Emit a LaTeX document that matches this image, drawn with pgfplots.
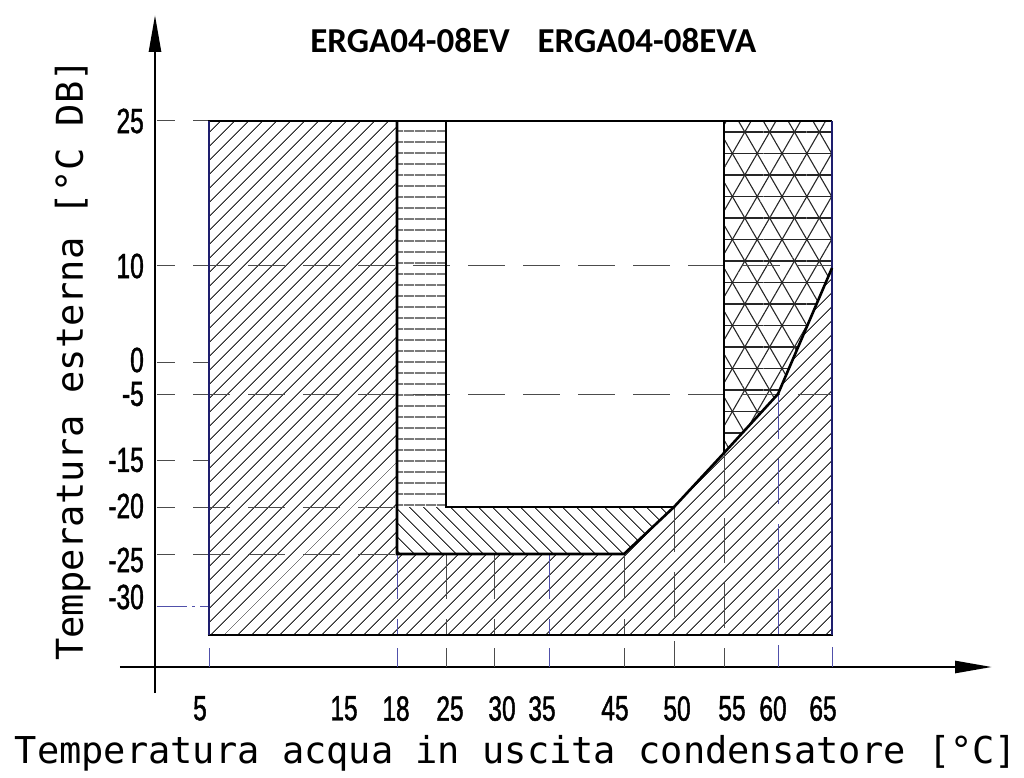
\documentclass[border=0pt]{standalone}
\usepackage{pgfplots}
\pgfplotsset{compat=1.18}
\usepackage{fontspec}
\usetikzlibrary{arrows.meta,patterns.meta}
\setmainfont{Liberation Sans}
\newfontfamily\titlefont{Carlito}
\newfontfamily\labelfont{DejaVu Sans Mono}
\newfontfamily\ticknarrow[FakeStretch=0.7,FakeBold=1.2]{Liberation Sans}
\definecolor{gridblue}{RGB}{80,80,170}
\definecolor{navy}{RGB}{30,30,110}
\begin{document}
\begin{tikzpicture}
\begin{axis}[
  x=1pt, y=1pt,
  xmin=-35, xmax=837, ymin=-26, ymax=652,
  axis lines=middle,
  axis line style={line width=2.6pt},
  every inner x axis line/.append style={-{Triangle[length=37pt,width=12pt]}},
  every inner y axis line/.append style={-{Triangle[length=37pt,width=12pt]}},
  clip=false,
  xtick={45,189,241,295,347,387,460,522,577,618,668},
  xticklabels={5,15,18,25,30,35,45,50,55,60,65},
  ytick={546,401,307,273,207,161,107,70},
  yticklabels={25,10,0,-5,-15,-20,-25,-30},
  major tick length=0pt,
  tick label style={font=\ticknarrow\fontsize{35}{35}\selectfont, inner sep=0pt},
  xticklabel style={anchor=north, yshift=-29pt},
  yticklabel style={anchor=east, xshift=-11pt},
]
% invisible frame = whole picture
\path (axis cs:-155,-110) rectangle (axis cs:869,667);

% main region (/ hatch)
\addplot[draw=none, pattern={Lines[angle=45,distance=10.5pt,line width=1.1pt]}, pattern color=black!80]
  coordinates {(54,32) (54,546) (242,546) (242,113) (469,113) (519,160) (569,214) (623,273) (677,399) (677,32)} -- cycle;
% horizontal lines region
\addplot[draw=none, pattern={Lines[angle=0,distance=10.5pt,line width=1.1pt]}, pattern color=black!80]
  coordinates {(242,546) (291,546) (291,160) (242,160)} -- cycle;
% backslash hatch region
\addplot[draw=none, pattern={Lines[angle=-45,distance=10.5pt,line width=1.1pt]}, pattern color=black!80]
  coordinates {(242,160) (519,160) (469,113) (242,113)} -- cycle;
% triangle grid region
\addplot[draw=none, pattern={Lines[angle=0,distance=21.5pt,line width=1.1pt]}, pattern color=black!85,
  postaction={pattern={Lines[angle=60,distance=21.5pt,line width=1.1pt]}, pattern color=black!85},
  postaction={pattern={Lines[angle=-60,distance=21.5pt,line width=1.1pt]}, pattern color=black!85}]
  coordinates {(569,546) (677,546) (677,399) (623,273) (569,214)} -- cycle;

% horizontal dashed grid lines
\addplot[black!70, line width=1pt, dash pattern=on 37pt off 18pt, dash phase=19pt] coordinates {(2,546) (54,546)};
\addplot[black!70, line width=1pt, dash pattern=on 37pt off 18pt, dash phase=19pt] coordinates {(2,401) (677,401)};
\addplot[black!70, line width=1pt, dash pattern=on 37pt off 18pt, dash phase=19pt] coordinates {(2,305) (54,305)};
\addplot[black!70, line width=1pt, dash pattern=on 37pt off 18pt, dash phase=19pt] coordinates {(2,273) (677,273)};
\addplot[black!70, line width=1pt, dash pattern=on 37pt off 18pt, dash phase=19pt] coordinates {(2,207) (54,207)};
\addplot[black!70, line width=1pt, dash pattern=on 37pt off 18pt, dash phase=19pt] coordinates {(2,160) (242,160)};
\addplot[black!70, line width=1pt, dash pattern=on 37pt off 18pt, dash phase=19pt] coordinates {(2,113) (242,113)};
\addplot[gridblue, line width=1pt, dash pattern=on 30pt off 5pt on 3pt off 5pt] coordinates {(2,61) (54,61)};

% vertical dashed grid lines inside the box
\addplot[gridblue, line width=1pt, dash pattern=on 45pt off 20pt] coordinates {(242,113) (242,32)};
\addplot[black!70, line width=1pt, dash pattern=on 45pt off 20pt] coordinates {(291,113) (291,32)};
\addplot[black!70, line width=1pt, dash pattern=on 45pt off 20pt] coordinates {(339,113) (339,32)};
\addplot[gridblue, line width=1pt, dash pattern=on 45pt off 20pt] coordinates {(394,113) (394,32)};
\addplot[black!70, line width=1pt, dash pattern=on 45pt off 20pt] coordinates {(469,113) (469,32)};
\addplot[black!70, line width=1pt, dash pattern=on 45pt off 20pt] coordinates {(519,160) (519,32)};
\addplot[black!70, line width=1pt, dash pattern=on 45pt off 20pt] coordinates {(569,214) (569,32)};
\addplot[gridblue, line width=1pt, dash pattern=on 45pt off 20pt] coordinates {(623,273) (623,32)};
% short ticks below the box
\addplot[gridblue, line width=1pt] coordinates {(54,0) (54,19)};
\addplot[gridblue, line width=1pt] coordinates {(242,0) (242,19)};
\addplot[black!70, line width=1pt] coordinates {(291,0) (291,19)};
\addplot[black!70, line width=1pt] coordinates {(339,0) (339,19)};
\addplot[gridblue, line width=1pt] coordinates {(394,0) (394,19)};
\addplot[black!70, line width=1pt] coordinates {(469,0) (469,19)};
\addplot[black!70, line width=1pt] coordinates {(519,0) (519,26)};
\addplot[black!70, line width=1pt] coordinates {(569,0) (569,19)};
\addplot[gridblue, line width=1pt] coordinates {(623,0) (623,22)};
\addplot[gridblue, line width=1pt] coordinates {(677,0) (677,20)};

% thick borders
\addplot[black, line width=2.6pt] coordinates {(52.7,546) (677,546)};
\addplot[black, line width=2.6pt] coordinates {(52.7,32) (678.3,32)};
\addplot[navy, line width=2.4pt] coordinates {(54,32) (54,546)};
\addplot[navy, line width=2.4pt] coordinates {(677,32) (677,546)};
\addplot[black, line width=2.6pt] coordinates {(242,546) (242,113) (469,113) (519,160) (569,214) (623,273) (677,399)};
\addplot[black, line width=2.6pt] coordinates {(291,546) (291,160) (519,160)};
\addplot[black, line width=2.6pt] coordinates {(569,546) (569,214)};

% texts
\node[font=\titlefont\bfseries\fontsize{35}{35}\selectfont, anchor=base] at (axis cs:255,614) {ERGA04-08EV};
\node[font=\titlefont\bfseries\fontsize{35}{35}\selectfont, anchor=base] at (axis cs:492,614) {ERGA04-08EVA};
\node[font=\labelfont\fontsize{37}{40}\selectfont, anchor=base, inner sep=0pt] at (axis cs:361,-96) {Temperatura acqua in uscita condensatore [°C]};
\node[font=\labelfont\fontsize{37}{40}\selectfont, anchor=base, rotate=90, inner sep=0pt] at (axis cs:-72,307) {Temperatura esterna [°C DB]};
\end{axis}
\end{tikzpicture}
\end{document}
